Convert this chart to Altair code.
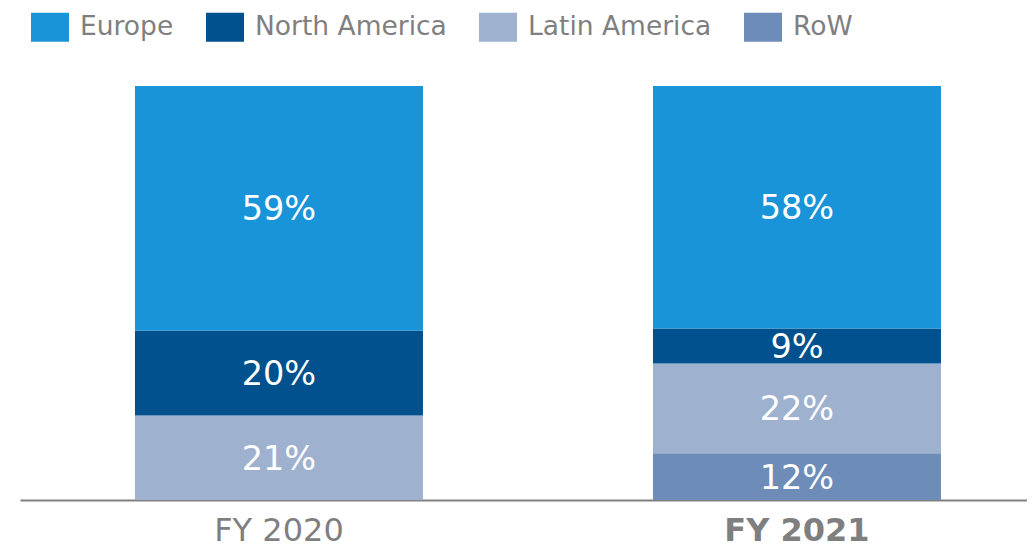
import altair as alt
import pandas as pd

years = ["FY 2020"] * 3 + ["FY 2021"] * 4
regions = ["Europe", "North America", "Latin America",
           "Europe", "North America", "Latin America", "RoW"]
# bar heights as drawn (share of the bar)
shares = [59.1, 20.5, 20.4, 58.6, 8.4, 21.7, 11.3]
# printed labels
labels = [59, 20, 21, 58, 9, 22, 12]
order_map = {"RoW": 0, "Latin America": 1, "North America": 2, "Europe": 3}

legend_regions = ["Europe", "North America", "Latin America", "RoW"]
colors = ["#1a94d8", "#00518d", "#9eb1cf", "#6e8cb8"]

df = pd.DataFrame({"year": years, "region": regions, "value": shares})
df["ord"] = df["region"].map(order_map)
df["label"] = [f"{v}%" for v in labels]

FONT = "DejaVu Sans"

base = alt.Chart(df).transform_stack(
    stack="value", groupby=["year"], as_=["y0", "y1"], offset="normalize",
    sort=[alt.SortField("ord", order="ascending")]
).transform_calculate(mid="(datum.y0 + datum.y1) / 2")

x = alt.X("year:N", title=None, sort=["FY 2020", "FY 2021"],
          scale=alt.Scale(paddingInner=0.444, paddingOuter=0.194, align=0.572),
          axis=alt.Axis(labelFont=FONT, labelFontSize=32, labelColor="#7f7f7f",
                        labelFontWeight={"expr": "datum.value == 'FY 2021' ? 'bold' : 'normal'"},
                        labelAngle=0, ticks=False, domainColor="#808080", domainWidth=2,
                        labelPadding=15, grid=False))

bars = base.mark_bar().encode(
    x=x,
    y=alt.Y("y0:Q", axis=None, scale=alt.Scale(domain=[0, 1])),
    y2="y1:Q",
    color=alt.Color("region:N", scale=alt.Scale(domain=legend_regions, range=colors),
                    legend=alt.Legend(title=None, orient="none", direction="horizontal",
                                      legendX=11, legendY=-78,
                                      symbolType="M-1,-0.763L1,-0.763L1,0.763L-1,0.763Z",
                                      symbolSize=1444, symbolStrokeWidth=0, symbolOpacity=1,
                                      labelFont=FONT, labelFontSize=26.5, labelColor="#7f7f7f",
                                      labelOffset=11, columnPadding=32, labelLimit=400)),
    order=alt.Order("ord:Q"),
)

text = base.mark_text(color="white", font=FONT, fontSize=33.5, baseline="middle", dy=2).encode(
    x=alt.X("year:N", sort=["FY 2020", "FY 2021"]),
    y=alt.Y("mid:Q"),
    text="label:N",
)

chart = alt.layer(bars, text).properties(
    width=1007, height=414,
    autosize=alt.AutoSizeParams(type="none"),
    padding={"left": 12, "top": 78, "right": 0, "bottom": 48},
).configure_view(stroke=None)

chart.save("out.html", embed_options={"renderer": "svg", "actions": False})
